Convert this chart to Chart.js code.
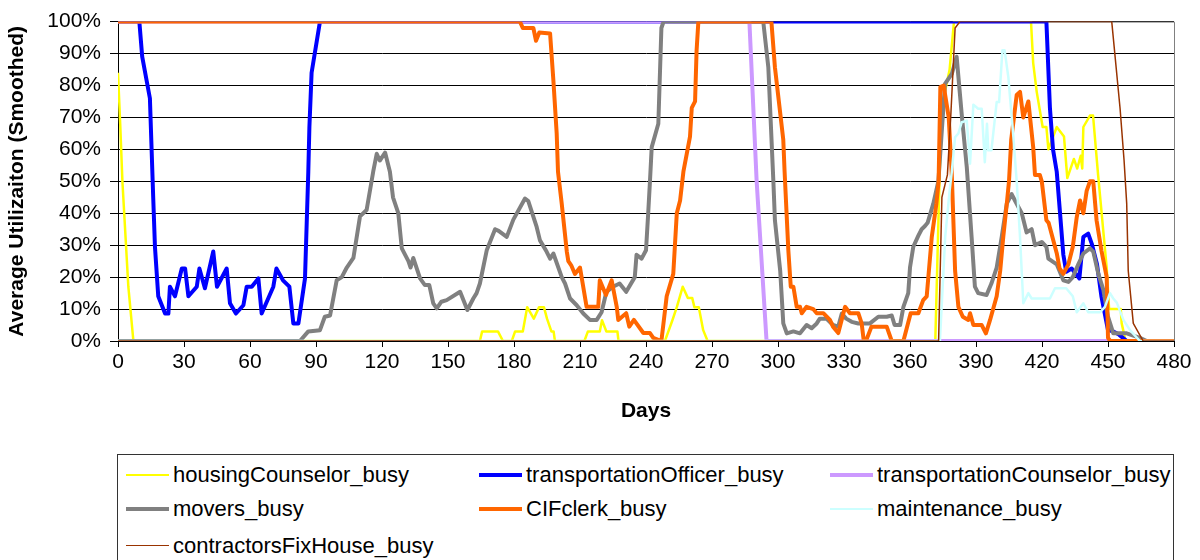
<!DOCTYPE html>
<html>
<head>
<meta charset="utf-8">
<script src="https://cdn.jsdelivr.net/npm/chart.js@4.4.1/dist/chart.umd.min.js"></script>
<style>
  body { margin: 0; background: #fff; }
  #wrap { position: relative; width: 1200px; height: 560px; overflow: hidden; font-family: 'Liberation Sans', Arial, sans-serif; }
  #chartBox { position: absolute; left: 0; top: 0; }
  #legend { position: absolute; left: 117px; top: 454px; width: 1055px; height: 130px; border: 1px solid #333; }
  .lbl { position: absolute; font-size: 22px; line-height: 24px; color: #000; white-space: nowrap; }
  .swatch { position: absolute; height: 0; }
</style>
</head>
<body>
<div id="wrap">
  <canvas id="chartBox" width="1200" height="452"></canvas>
  <div id="legend"></div>
</div>
<script>
// series names + colours
const seriesNames = ['housingCounselor_busy', 'transportationOfficer_busy', 'transportationCounselor_busy',
  'movers_busy', 'CIFclerk_busy', 'maintenance_busy', 'contractorsFixHouse_busy'];
const seriesColors = ['#FFFF00', '#0000FF', '#CC99FF', '#808080', '#FF6600', '#CCFFFF', '#993300'];
const seriesWidths = [2.5, 4, 4, 4, 4, 2.5, 1.5];

const xTicks = [0, 30, 60, 90, 120, 150, 180, 210, 240, 270, 300, 330, 360, 390, 420, 450, 480];
const yTicks = [0, 10, 20, 30, 40, 50, 60, 70, 80, 90, 100];

// housingCounselor_busy
const housingDays = [0, 1, 2, 4.7, 7, 164.5, 165.5, 172.7, 175, 179, 180.5, 184, 186, 189, 191.4, 193.6, 195, 197, 198, 198.6,
  212, 213.6, 219, 220, 222, 227, 227.5, 248.6, 252, 254, 256.7, 259, 261, 262, 264, 266, 268,
  371.5, 373.5, 375, 378, 380, 415, 416, 417.6, 420.3, 422, 422.9, 426.7, 430, 431.5, 434.5, 436, 437.6, 438.3, 438.8,
  441.8, 443.2, 445.5, 449.4, 450.5, 455.8, 456.2, 458, 480];
const housingVals = [84, 68, 50, 17, 0, 0, 3, 3, 0, 0, 3, 3, 10.6, 7, 10.6, 10.6, 7, 3, 3, 0,
  0, 3, 3, 6.5, 3, 3, 0, 0, 6.5, 10.6, 17, 13.5, 13.5, 10.6, 10.6, 3.4, 0,
  0, 53, 75, 85, 100, 100, 87, 78, 67, 67, 60, 67, 64, 51, 57, 54, 58, 54, 67,
  70.6, 70.6, 52, 23, 10, 10, 5.6, 0, 0];

// transportationOfficer_busy
const officerDays = [0, 9.7, 11, 14.5, 16, 16.8, 18.3, 21.4, 22.9, 23.6, 25.9, 29, 30.5, 32, 35.8, 37, 39.5, 43.3, 45,
  49.4, 50.9, 53.6, 57, 58.5, 60.8, 63.8, 65.3, 70.6, 72, 75, 77.9, 79.7, 82, 85, 86.5, 87, 88, 91.8,
  422, 423.6, 425, 426.7, 429.7, 431, 433.5, 437, 438.8, 441, 442.6, 445, 447, 450, 452.4, 455, 458.5, 480];
const officerVals = [100, 100, 89, 76, 45, 29.5, 14, 8.6, 8.6, 17, 14, 22.7, 22.7, 14, 17, 22.7, 16.5, 28, 17,
  22.7, 11.8, 8.6, 11.2, 17, 17, 19.6, 8.6, 17, 22.7, 19, 17, 5.5, 5.5, 19.6, 53, 67, 84, 100,
  100, 73, 60, 53, 27, 21.7, 22.7, 19.6, 32.6, 33.6, 30.5, 24, 14, 3.4, 3, 2, 0, 0];

// transportationCounselor_busy
const counselorDays = [0, 287, 290.3, 294.8, 480];
const counselorVals = [100, 100, 50, 0, 0];

// movers_busy
const moversDays = [0, 82.7, 86.5, 91.8, 94, 96.4, 99.4, 101.7, 104, 107, 110, 113, 116, 117.6, 119, 121.4, 123.6, 125,
  127.4, 129, 132, 133, 134.2, 137.3, 139.5, 141.5, 143.3, 144.9, 147, 149.4, 155.5, 158.8, 161.5, 163, 164.5,
  167.6, 171.4, 173, 176.7, 179.7, 185, 186.5, 190.3, 191.8, 194.8, 196.4, 197.9, 201.7, 203.2, 205.5, 208.5,
  211.5, 214.5, 217.6, 219.8, 222, 225, 228, 231, 234.9, 235.7, 238, 240, 241, 241.8, 242.6, 245.6, 247, 248,
  293.3, 295.6, 297.9, 298.6, 301, 302.4, 304, 307, 310, 313, 315.3, 317.6, 319, 322, 325, 327.4, 329, 331,
  333.5, 336.5, 341.8, 345.6, 349.4, 351.7, 353, 355.5, 357, 359.2, 360, 361.5, 363.8, 365.3, 366.8, 368,
  370.6, 372.9, 375.9, 379, 381.2, 383.5, 385.8, 388, 389.5, 391, 394.8, 397, 399.4, 401.7, 404, 406.2, 407.7,
  410.8, 413, 415.3, 416.8, 419.9, 422, 422.9, 426.7, 429.7, 432, 434, 436.5, 438.8, 441.8, 443.3, 445.6,
  447.9, 450, 452.4, 458.5, 464.5, 467.6, 480];
const moversVals = [0, 0, 3, 3.4, 7.6, 8, 19, 20, 23, 26, 39, 41, 53, 58.6, 56.5, 59, 53, 45,
  40, 29, 25, 23, 26, 19.6, 17.5, 17.5, 11.8, 10.2, 12.3, 12.8, 15.4, 9.7, 13.3, 15, 18,
  28.4, 35, 34.5, 32.6, 38, 44.6, 43.8, 35.7, 31.5, 28, 25.8, 27.4, 20, 18, 13.3, 11.2,
  8.6, 6.6, 6.6, 9, 15.4, 17, 18, 15.4, 20, 27, 25.8, 28.4, 40, 50, 60.7, 68, 98, 100,
  100, 85.7, 50, 37.8, 22, 5.5, 2.4, 3, 2.4, 5, 4, 5.5, 7, 7, 5, 4.5, 8.6, 7,
  6, 5.5, 5.5, 7.6, 7.6, 8, 5, 5, 10.7, 15, 23, 29.5, 33, 35, 36, 37,
  43, 50, 80.5, 83.6, 89, 71, 54.5, 32.6, 17, 15, 14.4, 18, 23, 32.6, 43, 46, 44,
  40, 34, 35, 30, 31, 29.5, 25.8, 24, 19, 18.5, 20, 24, 27.4, 29, 28, 21,
  16, 7.6, 2.4, 2.4, 1, 0, 0];

// CIFclerk_busy
const clerkDays = [0, 182.7, 184, 188.8, 190, 191.5, 196.4, 197.9, 199.4, 200, 201.7, 204, 204.7, 206, 207.7, 210, 213,
  218.3, 219, 221.8, 224.4, 226.7, 227.4, 231, 232.4, 234.5, 238.8, 241.8, 243.3, 247, 249.4, 252.4, 254,
  255.5, 257, 260, 260.8, 262.3, 263, 263.8, 297, 298.6, 302.4, 303, 304.7, 305.8, 307, 308.5, 310, 310.8,
  313, 316, 317.6, 320.6, 323.6, 325, 327.4, 330.5, 332.7, 336.5, 338, 339, 340, 342.5, 349.4, 351.7, 357,
  360.3, 363.8, 366, 367.6, 369.9, 372, 373, 373.8, 375.3, 377.6, 379, 380.5, 382, 384, 386.5, 387.3, 388.8,
  392.6, 394.5, 396.4, 399.4, 401, 402.4, 404, 405, 406, 408.5, 410, 411.5, 413.8, 416, 416.8, 419, 419.9,
  422, 423, 426.7, 428, 429.7, 432, 434, 435.8, 437.3, 438.8, 440.3, 441.8, 443.3, 444.8, 447, 449.4, 450,
  451, 480];
const clerkVals = [100, 100, 98, 98, 94, 96.6, 96.3, 81.6, 65, 53, 43, 28, 25, 23.7, 21, 23, 10.7,
  10.7, 19, 14.4, 19, 10.7, 6.6, 8.7, 4.5, 6.6, 2.5, 2.5, 1, 0, 14, 21, 40,
  44, 53, 64, 73, 75, 91, 100, 100, 85.7, 63, 53, 28.4, 17, 17, 10.7, 10.7, 8.7,
  10.7, 10, 8.7, 8.7, 6.6, 4.5, 2.5, 10.7, 8.7, 8.7, 5.6, 0, 0, 4.5, 4.5, 0, 0,
  8.7, 8.7, 12.8, 14, 32.6, 43, 50, 79.5, 80, 70, 52, 22, 10.7, 7.6, 6.6, 8.7, 5,
  5, 2.4, 6.6, 14, 22, 32.6, 43, 50, 63, 77, 78, 70, 75, 60.7, 52, 52, 50,
  37.8, 37, 27.5, 22.7, 21, 24, 29.5, 38.8, 44, 40, 47, 50, 50, 37.8, 28.4, 20, 1,
  0, 0];

// maintenance_busy
const maintDays = [0, 373.6, 376, 378, 379, 380.5, 382, 383.5, 385.8, 387.3, 388.8, 391, 392.6, 394, 395, 395.6, 397,
  399.4, 400.5, 402, 403, 404.7, 407, 408.5, 410, 411.5, 413.8, 415.3, 423.6, 425.9, 431, 434, 435.8, 438.8,
  441, 446.4, 448.6, 450.9, 452.4, 454, 457, 460, 464.5, 480];
const maintVals = [0, 0, 32.6, 47, 53, 63.8, 65, 68.5, 69, 55.5, 74, 72.7, 72.7, 56, 68, 59.7, 59.7,
  74.8, 74.8, 91, 91, 82.6, 63.8, 50, 32.6, 11.8, 15, 13.3, 13.3, 16.5, 16.5, 14, 9, 11.8,
  9, 9, 10.7, 15, 13.3, 12, 6.6, 3.4, 0, 0];

// contractorsFixHouse_busy
const contractDays = [0, 373, 374.5, 377, 378.5, 380.5, 382.7, 451.7, 455.5, 457.3, 458.5, 459.2, 461.5, 466, 480];
const contractVals = [0, 0, 45, 52, 70, 98, 100, 100, 72.7, 56.6, 43, 22, 5.5, 0, 0];

const seriesDays = [housingDays, officerDays, counselorDays, moversDays, clerkDays, maintDays, contractDays];
const seriesVals = [housingVals, officerVals, counselorVals, moversVals, clerkVals, maintVals, contractVals];

const FONT = "'Liberation Sans', Arial, sans-serif";
Chart.defaults.font.family = FONT;
Chart.defaults.color = '#000';

const datasets = seriesNames.map((name, i) => ({
  label: name,
  data: seriesDays[i].map((d, j) => ({ x: d, y: seriesVals[i][j] })),
  borderColor: seriesColors[i],
  backgroundColor: seriesColors[i],
  borderWidth: seriesWidths[i],
  pointRadius: 0,
  tension: 0,
  fill: false,
  borderJoinStyle: 'round',
  order: seriesNames.length - 1 - i   // later series drawn on top, like Excel
}));

// grey plot frame (top + right edge)
const framePlugin = {
  id: 'frame',
  beforeDatasetsDraw(chart) {
    const { ctx, chartArea: a } = chart;
    ctx.save();
    ctx.strokeStyle = '#808080';
    ctx.lineWidth = 1;
    ctx.beginPath();
    ctx.moveTo(a.left, a.top + 0.5);
    ctx.lineTo(a.right + 0.5, a.top + 0.5);
    ctx.lineTo(a.right + 0.5, a.bottom);
    ctx.stroke();
    ctx.restore();
  }
};

new Chart(document.getElementById('chartBox').getContext('2d'), {
  type: 'line',
  data: { datasets },
  plugins: [framePlugin],
  options: {
    responsive: false,
    animation: false,
    devicePixelRatio: 1,
    layout: { padding: { top: 21, right: 26, left: 0, bottom: 0 } },
    plugins: { legend: { display: false }, tooltip: { enabled: false } },
    scales: {
      x: {
        type: 'linear', min: 0, max: 480,
        afterBuildTicks: s => { s.ticks = xTicks.map(v => ({ value: v })); },
        ticks: { font: { size: 21 }, color: '#000', padding: 3, maxRotation: 0, autoSkip: false },
        grid: { drawOnChartArea: false, tickLength: 6, color: '#000' },
        border: { color: '#000', width: 1 },
        title: { display: true, text: 'Days', color: '#000', font: { size: 21, weight: 'bold' }, padding: { top: 4, bottom: 28 } },
        afterFit: s => { s.height = 111; }
      },
      y: {
        min: 0, max: 100,
        afterBuildTicks: s => { s.ticks = yTicks.map(v => ({ value: v })); },
        ticks: { font: { size: 21 }, color: '#000', padding: 9, callback: v => v + '%' },
        grid: { color: '#000', tickLength: 8 },
        border: { color: '#000', width: 1 },
        title: { display: true, text: 'Average Utilizaiton (Smoothed)', color: '#000', font: { size: 21, weight: 'bold' }, padding: { top: 5, bottom: 0 } },
        afterFit: s => { s.width = 118; }
      }
    }
  }
});

// legend box, 3 columns like the Excel one
const legend = document.getElementById('legend');
const colX = [8, 361, 712];   // relative to legend box
const rowY = [20, 54, 91];
seriesNames.forEach((name, i) => {
  const col = i % 3, row = Math.floor(i / 3);
  const sw = document.createElement('div');
  sw.className = 'swatch';
  sw.style.left = colX[col] + 'px';
  sw.style.top = (rowY[row] - seriesWidths[i] / 2) + 'px';
  sw.style.width = '43px';
  sw.style.borderTop = seriesWidths[i] + 'px solid ' + seriesColors[i];
  legend.appendChild(sw);
  const t = document.createElement('span');
  t.className = 'lbl';
  t.textContent = name;
  t.style.left = (colX[col] + 47) + 'px';
  t.style.top = (rowY[row] - 12) + 'px';
  legend.appendChild(t);
});
</script>
</body>
</html>
